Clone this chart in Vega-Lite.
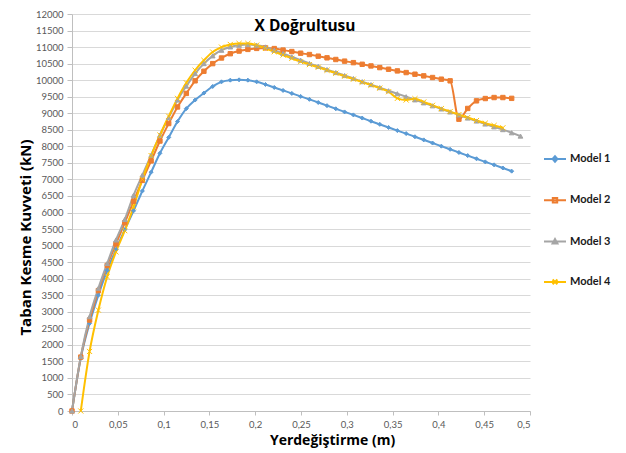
{
  "$schema": "https://vega.github.io/schema/vega-lite/v6.json",
  "width": 458,
  "height": 397,
  "autosize": {"type": "none"},
  "padding": {"left": 72, "top": 14, "right": 96, "bottom": 42},
  "background": "#ffffff",
  "title": {"text": "X Doğrultusu", "font": "Open Sans", "fontSize": 15.5, "fontWeight": "bold", "color": "#000000", "anchor": "middle", "offset": -25, "dx": 4},
  "config": {
    "view": {"stroke": null},
    "font": "Lato",
    "axis": {"labelFont": "Lato", "labelFontSize": 9.5, "labelColor": "#595959", "titleFont": "Open Sans", "titleColor": "#000000", "titleFontWeight": "bold", "domainColor": "#BFBFBF", "tickColor": "#BFBFBF", "gridColor": "#D9D9D9", "tickSize": 5}
  },
  "datasets": {
    "pts": [
      {"Model": "Model 1", "x": 0, "y": 0},
      {"Model": "Model 1", "x": 0.0096, "y": 1600},
      {"Model": "Model 1", "x": 0.0192, "y": 2650},
      {"Model": "Model 1", "x": 0.0288, "y": 3500},
      {"Model": "Model 1", "x": 0.0384, "y": 4250},
      {"Model": "Model 1", "x": 0.048, "y": 4880},
      {"Model": "Model 1", "x": 0.0576, "y": 5480},
      {"Model": "Model 1", "x": 0.0672, "y": 6050},
      {"Model": "Model 1", "x": 0.0768, "y": 6650},
      {"Model": "Model 1", "x": 0.0864, "y": 7220},
      {"Model": "Model 1", "x": 0.096, "y": 7790},
      {"Model": "Model 1", "x": 0.1056, "y": 8270},
      {"Model": "Model 1", "x": 0.1152, "y": 8750},
      {"Model": "Model 1", "x": 0.1248, "y": 9140},
      {"Model": "Model 1", "x": 0.1344, "y": 9400},
      {"Model": "Model 1", "x": 0.144, "y": 9610},
      {"Model": "Model 1", "x": 0.1536, "y": 9810},
      {"Model": "Model 1", "x": 0.1632, "y": 9950},
      {"Model": "Model 1", "x": 0.1728, "y": 10000},
      {"Model": "Model 1", "x": 0.1824, "y": 10010},
      {"Model": "Model 1", "x": 0.192, "y": 10000},
      {"Model": "Model 1", "x": 0.2016, "y": 9950},
      {"Model": "Model 1", "x": 0.2112, "y": 9870},
      {"Model": "Model 1", "x": 0.2208, "y": 9780},
      {"Model": "Model 1", "x": 0.2304, "y": 9690},
      {"Model": "Model 1", "x": 0.24, "y": 9600},
      {"Model": "Model 1", "x": 0.2496, "y": 9510},
      {"Model": "Model 1", "x": 0.2592, "y": 9420},
      {"Model": "Model 1", "x": 0.2688, "y": 9325},
      {"Model": "Model 1", "x": 0.2784, "y": 9230},
      {"Model": "Model 1", "x": 0.288, "y": 9135},
      {"Model": "Model 1", "x": 0.2976, "y": 9040},
      {"Model": "Model 1", "x": 0.3072, "y": 8950},
      {"Model": "Model 1", "x": 0.3168, "y": 8855},
      {"Model": "Model 1", "x": 0.3264, "y": 8760},
      {"Model": "Model 1", "x": 0.336, "y": 8665},
      {"Model": "Model 1", "x": 0.3456, "y": 8570},
      {"Model": "Model 1", "x": 0.3552, "y": 8475},
      {"Model": "Model 1", "x": 0.3648, "y": 8385},
      {"Model": "Model 1", "x": 0.3744, "y": 8290},
      {"Model": "Model 1", "x": 0.384, "y": 8195},
      {"Model": "Model 1", "x": 0.3936, "y": 8100},
      {"Model": "Model 1", "x": 0.4032, "y": 8005},
      {"Model": "Model 1", "x": 0.4128, "y": 7910},
      {"Model": "Model 1", "x": 0.4224, "y": 7815},
      {"Model": "Model 1", "x": 0.432, "y": 7720},
      {"Model": "Model 1", "x": 0.4416, "y": 7625},
      {"Model": "Model 1", "x": 0.4512, "y": 7530},
      {"Model": "Model 1", "x": 0.4608, "y": 7440},
      {"Model": "Model 1", "x": 0.4704, "y": 7345},
      {"Model": "Model 1", "x": 0.48, "y": 7250},

      {"Model": "Model 2", "x": 0, "y": 0},
      {"Model": "Model 2", "x": 0.0096, "y": 1630},
      {"Model": "Model 2", "x": 0.0192, "y": 2750},
      {"Model": "Model 2", "x": 0.0288, "y": 3640},
      {"Model": "Model 2", "x": 0.0384, "y": 4400},
      {"Model": "Model 2", "x": 0.048, "y": 5050},
      {"Model": "Model 2", "x": 0.0576, "y": 5690},
      {"Model": "Model 2", "x": 0.0672, "y": 6340},
      {"Model": "Model 2", "x": 0.0768, "y": 6970},
      {"Model": "Model 2", "x": 0.0864, "y": 7560},
      {"Model": "Model 2", "x": 0.096, "y": 8160},
      {"Model": "Model 2", "x": 0.1056, "y": 8690},
      {"Model": "Model 2", "x": 0.1152, "y": 9190},
      {"Model": "Model 2", "x": 0.1248, "y": 9600},
      {"Model": "Model 2", "x": 0.1344, "y": 9980},
      {"Model": "Model 2", "x": 0.144, "y": 10270},
      {"Model": "Model 2", "x": 0.1536, "y": 10500},
      {"Model": "Model 2", "x": 0.1632, "y": 10670},
      {"Model": "Model 2", "x": 0.1728, "y": 10800},
      {"Model": "Model 2", "x": 0.1824, "y": 10880},
      {"Model": "Model 2", "x": 0.192, "y": 10930},
      {"Model": "Model 2", "x": 0.2016, "y": 10960},
      {"Model": "Model 2", "x": 0.2112, "y": 10975},
      {"Model": "Model 2", "x": 0.2208, "y": 10955},
      {"Model": "Model 2", "x": 0.2304, "y": 10910},
      {"Model": "Model 2", "x": 0.24, "y": 10865},
      {"Model": "Model 2", "x": 0.2496, "y": 10815},
      {"Model": "Model 2", "x": 0.2592, "y": 10775},
      {"Model": "Model 2", "x": 0.2688, "y": 10725},
      {"Model": "Model 2", "x": 0.2784, "y": 10675},
      {"Model": "Model 2", "x": 0.288, "y": 10625},
      {"Model": "Model 2", "x": 0.2976, "y": 10575},
      {"Model": "Model 2", "x": 0.3072, "y": 10530},
      {"Model": "Model 2", "x": 0.3168, "y": 10480},
      {"Model": "Model 2", "x": 0.3264, "y": 10430},
      {"Model": "Model 2", "x": 0.336, "y": 10380},
      {"Model": "Model 2", "x": 0.3456, "y": 10330},
      {"Model": "Model 2", "x": 0.3552, "y": 10280},
      {"Model": "Model 2", "x": 0.3648, "y": 10230},
      {"Model": "Model 2", "x": 0.3744, "y": 10180},
      {"Model": "Model 2", "x": 0.384, "y": 10130},
      {"Model": "Model 2", "x": 0.3936, "y": 10080},
      {"Model": "Model 2", "x": 0.4032, "y": 10030},
      {"Model": "Model 2", "x": 0.4128, "y": 9980},
      {"Model": "Model 2", "x": 0.4224, "y": 8820},
      {"Model": "Model 2", "x": 0.432, "y": 9145},
      {"Model": "Model 2", "x": 0.4416, "y": 9375},
      {"Model": "Model 2", "x": 0.4512, "y": 9445},
      {"Model": "Model 2", "x": 0.4608, "y": 9475},
      {"Model": "Model 2", "x": 0.4704, "y": 9475},
      {"Model": "Model 2", "x": 0.48, "y": 9450},

      {"Model": "Model 3", "x": 0, "y": 0},
      {"Model": "Model 3", "x": 0.0096, "y": 1650},
      {"Model": "Model 3", "x": 0.0192, "y": 2850},
      {"Model": "Model 3", "x": 0.0288, "y": 3710},
      {"Model": "Model 3", "x": 0.0384, "y": 4460},
      {"Model": "Model 3", "x": 0.048, "y": 5170},
      {"Model": "Model 3", "x": 0.0576, "y": 5790},
      {"Model": "Model 3", "x": 0.0672, "y": 6520},
      {"Model": "Model 3", "x": 0.0768, "y": 7130},
      {"Model": "Model 3", "x": 0.0864, "y": 7730},
      {"Model": "Model 3", "x": 0.096, "y": 8340},
      {"Model": "Model 3", "x": 0.1056, "y": 8870},
      {"Model": "Model 3", "x": 0.1152, "y": 9400},
      {"Model": "Model 3", "x": 0.1248, "y": 9820},
      {"Model": "Model 3", "x": 0.1344, "y": 10200},
      {"Model": "Model 3", "x": 0.144, "y": 10500},
      {"Model": "Model 3", "x": 0.1536, "y": 10735},
      {"Model": "Model 3", "x": 0.1632, "y": 10905},
      {"Model": "Model 3", "x": 0.1728, "y": 11005},
      {"Model": "Model 3", "x": 0.1824, "y": 11055},
      {"Model": "Model 3", "x": 0.192, "y": 11075},
      {"Model": "Model 3", "x": 0.2016, "y": 11055},
      {"Model": "Model 3", "x": 0.2112, "y": 11005},
      {"Model": "Model 3", "x": 0.2208, "y": 10905},
      {"Model": "Model 3", "x": 0.2304, "y": 10805},
      {"Model": "Model 3", "x": 0.24, "y": 10705},
      {"Model": "Model 3", "x": 0.2496, "y": 10605},
      {"Model": "Model 3", "x": 0.2592, "y": 10505},
      {"Model": "Model 3", "x": 0.2688, "y": 10415},
      {"Model": "Model 3", "x": 0.2784, "y": 10320},
      {"Model": "Model 3", "x": 0.288, "y": 10230},
      {"Model": "Model 3", "x": 0.2976, "y": 10140},
      {"Model": "Model 3", "x": 0.3072, "y": 10050},
      {"Model": "Model 3", "x": 0.3168, "y": 9955},
      {"Model": "Model 3", "x": 0.3264, "y": 9865},
      {"Model": "Model 3", "x": 0.336, "y": 9775},
      {"Model": "Model 3", "x": 0.3456, "y": 9680},
      {"Model": "Model 3", "x": 0.3552, "y": 9590},
      {"Model": "Model 3", "x": 0.3648, "y": 9500},
      {"Model": "Model 3", "x": 0.3744, "y": 9405},
      {"Model": "Model 3", "x": 0.384, "y": 9315},
      {"Model": "Model 3", "x": 0.3936, "y": 9225},
      {"Model": "Model 3", "x": 0.4032, "y": 9130},
      {"Model": "Model 3", "x": 0.4128, "y": 9040},
      {"Model": "Model 3", "x": 0.4224, "y": 8950},
      {"Model": "Model 3", "x": 0.432, "y": 8855},
      {"Model": "Model 3", "x": 0.4416, "y": 8765},
      {"Model": "Model 3", "x": 0.4512, "y": 8675},
      {"Model": "Model 3", "x": 0.4608, "y": 8590},
      {"Model": "Model 3", "x": 0.4704, "y": 8505},
      {"Model": "Model 3", "x": 0.48, "y": 8410},
      {"Model": "Model 3", "x": 0.4896, "y": 8310},

      {"Model": "Model 4", "x": 0.0096, "y": 0},
      {"Model": "Model 4", "x": 0.0192, "y": 1800},
      {"Model": "Model 4", "x": 0.0288, "y": 3050},
      {"Model": "Model 4", "x": 0.0384, "y": 4060},
      {"Model": "Model 4", "x": 0.048, "y": 4810},
      {"Model": "Model 4", "x": 0.0576, "y": 5450},
      {"Model": "Model 4", "x": 0.0672, "y": 6170},
      {"Model": "Model 4", "x": 0.0768, "y": 7000},
      {"Model": "Model 4", "x": 0.0864, "y": 7720},
      {"Model": "Model 4", "x": 0.096, "y": 8340},
      {"Model": "Model 4", "x": 0.1056, "y": 8910},
      {"Model": "Model 4", "x": 0.1152, "y": 9450},
      {"Model": "Model 4", "x": 0.1248, "y": 9920},
      {"Model": "Model 4", "x": 0.1344, "y": 10300},
      {"Model": "Model 4", "x": 0.144, "y": 10600},
      {"Model": "Model 4", "x": 0.1536, "y": 10850},
      {"Model": "Model 4", "x": 0.1632, "y": 11000},
      {"Model": "Model 4", "x": 0.1728, "y": 11080},
      {"Model": "Model 4", "x": 0.1824, "y": 11110},
      {"Model": "Model 4", "x": 0.192, "y": 11110},
      {"Model": "Model 4", "x": 0.2016, "y": 11060},
      {"Model": "Model 4", "x": 0.2112, "y": 10960},
      {"Model": "Model 4", "x": 0.2208, "y": 10860},
      {"Model": "Model 4", "x": 0.2304, "y": 10760},
      {"Model": "Model 4", "x": 0.24, "y": 10660},
      {"Model": "Model 4", "x": 0.2496, "y": 10560},
      {"Model": "Model 4", "x": 0.2592, "y": 10470},
      {"Model": "Model 4", "x": 0.2688, "y": 10390},
      {"Model": "Model 4", "x": 0.2784, "y": 10300},
      {"Model": "Model 4", "x": 0.288, "y": 10210},
      {"Model": "Model 4", "x": 0.2976, "y": 10120},
      {"Model": "Model 4", "x": 0.3072, "y": 10030},
      {"Model": "Model 4", "x": 0.3168, "y": 9940},
      {"Model": "Model 4", "x": 0.3264, "y": 9850},
      {"Model": "Model 4", "x": 0.336, "y": 9760},
      {"Model": "Model 4", "x": 0.3456, "y": 9650},
      {"Model": "Model 4", "x": 0.3552, "y": 9450},
      {"Model": "Model 4", "x": 0.3648, "y": 9400},
      {"Model": "Model 4", "x": 0.3744, "y": 9440},
      {"Model": "Model 4", "x": 0.384, "y": 9340},
      {"Model": "Model 4", "x": 0.3936, "y": 9240},
      {"Model": "Model 4", "x": 0.4032, "y": 9140},
      {"Model": "Model 4", "x": 0.4128, "y": 9050},
      {"Model": "Model 4", "x": 0.4224, "y": 8960},
      {"Model": "Model 4", "x": 0.432, "y": 8870},
      {"Model": "Model 4", "x": 0.4416, "y": 8780},
      {"Model": "Model 4", "x": 0.4512, "y": 8700},
      {"Model": "Model 4", "x": 0.4608, "y": 8630},
      {"Model": "Model 4", "x": 0.4704, "y": 8560}
    ]
  },
  "data": {"name": "pts"},
  "encoding": {
    "x": {"field": "x", "type": "quantitative", "scale": {"domain": [0, 0.5], "nice": false, "zero": false},
      "axis": {"title": "Yerdeğiştirme (m)", "titleFontSize": 14, "titleX": 260, "titlePadding": 5, "grid": false, "values": [0, 0.05, 0.1, 0.15, 0.2, 0.25, 0.3, 0.35, 0.4, 0.45, 0.5], "labelExpr": "replace(format(datum.value, '.2~f'), '.', ',')", "tickSize": 4, "labelPadding": 4}},
    "y": {"field": "y", "type": "quantitative", "scale": {"domain": [0, 12000], "nice": false},
      "axis": {"title": "Taban Kesme Kuvveti (kN)", "titleFontSize": 15, "titleX": -39, "titleY": 223, "titleAngle": -90, "titleBaseline": "bottom", "titleAlign": "center", "grid": true, "values": [0, 500, 1000, 1500, 2000, 2500, 3000, 3500, 4000, 4500, 5000, 5500, 6000, 6500, 7000, 7500, 8000, 8500, 9000, 9500, 10000, 10500, 11000, 11500, 12000], "format": "d", "tickSize": 5, "labelPadding": 4}}
  },
  "layer": [
    {
      "mark": {"type": "line", "strokeWidth": 2, "interpolate": "monotone"},
      "encoding": {
        "color": {"field": "Model", "type": "nominal", "scale": {"domain": ["Model 1", "Model 2", "Model 3", "Model 4"], "range": ["#5B9BD5", "#ED7D31", "#A5A5A5", "#FFC000"]}, "legend": null}
      }
    },
    {
      "mark": {"type": "point", "filled": true, "opacity": 1, "strokeWidth": 1},
      "encoding": {
        "color": {"field": "Model", "type": "nominal", "legend": null},
        "stroke": {"field": "Model", "type": "nominal", "scale": {"domain": ["Model 1", "Model 2", "Model 3", "Model 4"], "range": ["#5B9BD5", "#ED7D31", "#A5A5A5", "#FFC000"]}, "legend": null},
        "shape": {"field": "Model", "type": "nominal", "scale": {"domain": ["Model 1", "Model 2", "Model 3", "Model 4"], "range": ["diamond", "square", "triangle-up", "M-1,-1L1,1M-1,1L1,-1"]}, "legend": null},
        "size": {"field": "Model", "type": "nominal", "scale": {"domain": ["Model 1", "Model 2", "Model 3", "Model 4"], "range": [16, 26, 20, 18]}, "legend": null}
      }
    },
    {
      "transform": [{"filter": "false"}],
      "mark": {"type": "point", "filled": false, "opacity": 1},
      "encoding": {
        "color": {"field": "Model", "type": "nominal",
          "legend": {"title": null, "orient": "none", "legendX": 471, "legendY": 133, "symbolSize": 484, "symbolStrokeWidth": 2, "labelFont": "Lato", "labelFontSize": 11, "labelFontWeight": "bold", "labelColor": "#1a1a1a", "labelOffset": 3, "rowPadding": 22.3, "padding": 0}},
        "shape": {"field": "Model", "type": "nominal", "scale": {"domain": ["Model 1", "Model 2", "Model 3", "Model 4"], "range": ["M-1,0H1M-0.22,0L0,-0.25L0.22,0L0,0.25Z", "M-1,0H1M-0.2,-0.2H0.2V0.2H-0.2Z", "M-1,0H1M-0.22,0.18L0,-0.22L0.22,0.18Z", "M-1,0H1M-0.22,-0.22L0.22,0.22M-0.22,0.22L0.22,-0.22"]},
          "legend": {"title": null, "orient": "none", "legendX": 471, "legendY": 133, "symbolSize": 484, "symbolStrokeWidth": 2, "labelFont": "Lato", "labelFontSize": 11, "labelFontWeight": "bold", "labelColor": "#1a1a1a", "labelOffset": 3, "rowPadding": 22.3, "padding": 0}}
      }
    }
  ],
  "resolve": {"scale": {"shape": "independent", "size": "independent"}, "legend": {"color": "independent", "shape": "independent"}}
}
